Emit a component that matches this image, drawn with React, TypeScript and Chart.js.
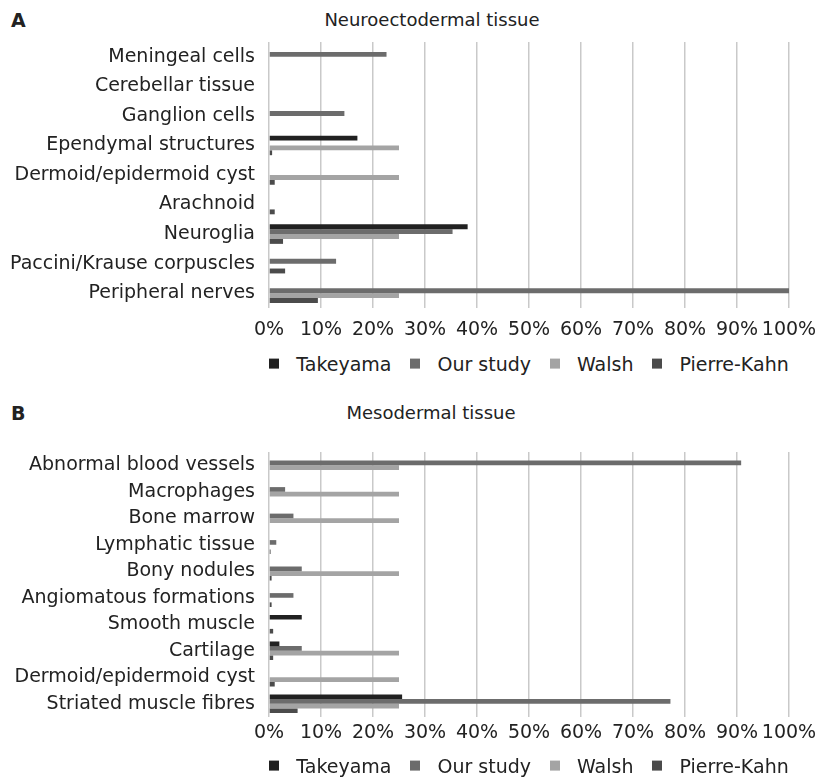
import React, { useEffect, useRef } from 'react';
import { Chart, registerables } from 'chart.js';

Chart.register(...registerables);

const FONT = '"DejaVu Sans", "Liberation Sans", sans-serif';
const TEXT_COLOR = '#222222';
const GRID_COLOR = '#c9c9c9';

const seriesNames = ['Takeyama', 'Our study', 'Walsh', 'Pierre-Kahn'];
const seriesColors = ['#212121', '#6c6c6c', '#a4a4a4', '#4b4b4b'];

const xMin = 0;
const xMax = 100;
const xStep = 10;

// Panel A – Neuroectodermal tissue
const neuroTitle = 'Neuroectodermal tissue';
const neuroCategories = [
  'Meningeal cells',
  'Cerebellar tissue',
  'Ganglion cells',
  'Ependymal structures',
  'Dermoid/epidermoid cyst',
  'Arachnoid',
  'Neuroglia',
  'Paccini/Krause corpuscles',
  'Peripheral nerves',
];
const neuroTakeyama = [0, 0, 0, 17, 0, 0, 38.2, 0, 0];
const neuroOurStudy = [22.6, 0, 14.5, 0, 0, 0, 35.3, 12.9, 100];
const neuroWalsh = [0, 0, 0, 25, 25, 0, 25, 0, 25];
const neuroPierreKahn = [0, 0, 0, 0.6, 1.1, 1.1, 2.7, 3.1, 9.4];

// Panel B – Mesodermal tissue
const mesoTitle = 'Mesodermal tissue';
const mesoCategories = [
  'Abnormal blood vessels',
  'Macrophages',
  'Bone marrow',
  'Lymphatic tissue',
  'Bony nodules',
  'Angiomatous formations',
  'Smooth muscle',
  'Cartilage',
  'Dermoid/epidermoid cyst',
  'Striated muscle fibres',
];
const mesoTakeyama = [0, 0, 0, 0, 0, 0, 6.3, 2.0, 0, 25.6];
const mesoOurStudy = [90.8, 3.1, 4.7, 1.4, 6.3, 4.7, 0, 6.3, 0, 77.2];
const mesoWalsh = [25, 25, 25, 0, 25, 0, 0, 25, 25, 25];
const mesoPierreKahn = [0, 0, 0, 0.3, 0.5, 0.5, 0.8, 0.8, 1.1, 5.5];

type PanelProps = {
  top: number;
  height: number;
  categories: string[];
  series: number[][];
  catPct: number;
  tickPad: number;
  axisH: number;
};

function BarPanel(props: PanelProps) {
  const ref = useRef<HTMLCanvasElement>(null);
  useEffect(() => {
    const font = { family: FONT, size: 19 };
    const chart = new Chart(ref.current as HTMLCanvasElement, {
      type: 'bar',
      data: {
        labels: props.categories,
        datasets: props.series.map((d, i) => ({
          label: seriesNames[i],
          data: d,
          backgroundColor: seriesColors[i],
          borderWidth: 0,
          categoryPercentage: props.catPct,
          barPercentage: 1,
        })),
      },
      options: {
        indexAxis: 'y',
        responsive: false,
        maintainAspectRatio: false,
        animation: false,
        layout: { padding: { top: 12, right: 34, bottom: 0, left: 0 } },
        plugins: {
          title: { display: false },
          tooltip: { enabled: false },
          legend: { display: false },
        },
        scales: {
          x: {
            min: xMin,
            max: xMax,
            ticks: {
              stepSize: xStep,
              padding: props.tickPad,
              color: TEXT_COLOR,
              font,
              maxRotation: 0,
              autoSkip: false,
              callback: (v: any) => `${v}%`,
            },
            grid: { color: GRID_COLOR, lineWidth: 1.5, drawTicks: false },
            border: { display: false },
            afterFit: (s: any) => {
              s.height = props.axisH;
              s.paddingLeft = 0;
              s.paddingRight = 0;
            },
          },
          y: {
            ticks: { padding: 14, color: TEXT_COLOR, font, autoSkip: false },
            grid: { display: false, drawTicks: false },
            border: { display: false },
            afterFit: (s: any) => {
              s.width = 269;
              s.paddingTop = 0;
              s.paddingBottom = 0;
            },
          },
        },
      },
    } as any);
    return () => chart.destroy();
  }, []);
  return (
    <canvas
      ref={ref}
      width={823}
      height={props.height}
      style={{ position: 'absolute', left: 0, top: props.top, width: 823, height: props.height, display: 'block' }}
    />
  );
}

function Label(p: { x: number; y: number; text: string; bold?: boolean; size: number; center?: boolean }) {
  return (
    <div
      style={{
        position: 'absolute',
        left: p.x,
        top: p.y,
        transform: p.center ? 'translate(-50%, -50%)' : 'translate(0, -50%)',
        fontFamily: FONT,
        fontSize: p.size,
        fontWeight: p.bold ? 'bold' : 'normal',
        color: TEXT_COLOR,
        whiteSpace: 'nowrap',
        lineHeight: 1,
      }}
    >
      {p.text}
    </div>
  );
}

function Legend({ y }: { y: number }) {
  return (
    <div
      style={{
        position: 'absolute',
        left: 269,
        width: 520,
        top: y,
        transform: 'translateY(-50%)',
        display: 'flex',
        justifyContent: 'center',
        alignItems: 'center',
        fontFamily: FONT,
        fontSize: 19,
        color: TEXT_COLOR,
        whiteSpace: 'nowrap',
        lineHeight: 1.2,
      }}
    >
      {seriesNames.map((name, i) => (
        <div key={name} style={{ display: 'flex', alignItems: 'center', marginLeft: i ? 19 : 0 }}>
          <span
            style={{
              display: 'inline-block',
              width: 10,
              height: 10,
              background: seriesColors[i],
              marginRight: 17,
            }}
          />
          <span>{name}</span>
        </div>
      ))}
    </div>
  );
}

export default function App() {
  return (
    <div
      style={{
        position: 'absolute',
        left: 0,
        top: 0,
        width: 823,
        height: 778,
        overflow: 'hidden',
        background: '#ffffff',
      }}
    >
      <Label x={11} y={20} text="A" bold size={19} />
      <Label x={432} y={20} text={neuroTitle} size={18} center />
      <BarPanel
        top={30}
        height={318}
        categories={neuroCategories}
        series={[neuroTakeyama, neuroOurStudy, neuroWalsh, neuroPierreKahn]}
        catPct={0.66}
        tickPad={11}
        axisH={40}
      />
      <Legend y={364} />
      <Label x={11} y={413} text="B" bold size={19} />
      <Label x={431} y={413} text={mesoTitle} size={18} center />
      <BarPanel
        top={440}
        height={317}
        categories={mesoCategories}
        series={[mesoTakeyama, mesoOurStudy, mesoWalsh, mesoPierreKahn]}
        catPct={0.7}
        tickPad={5}
        axisH={40}
      />
      <Legend y={766} />
    </div>
  );
}
